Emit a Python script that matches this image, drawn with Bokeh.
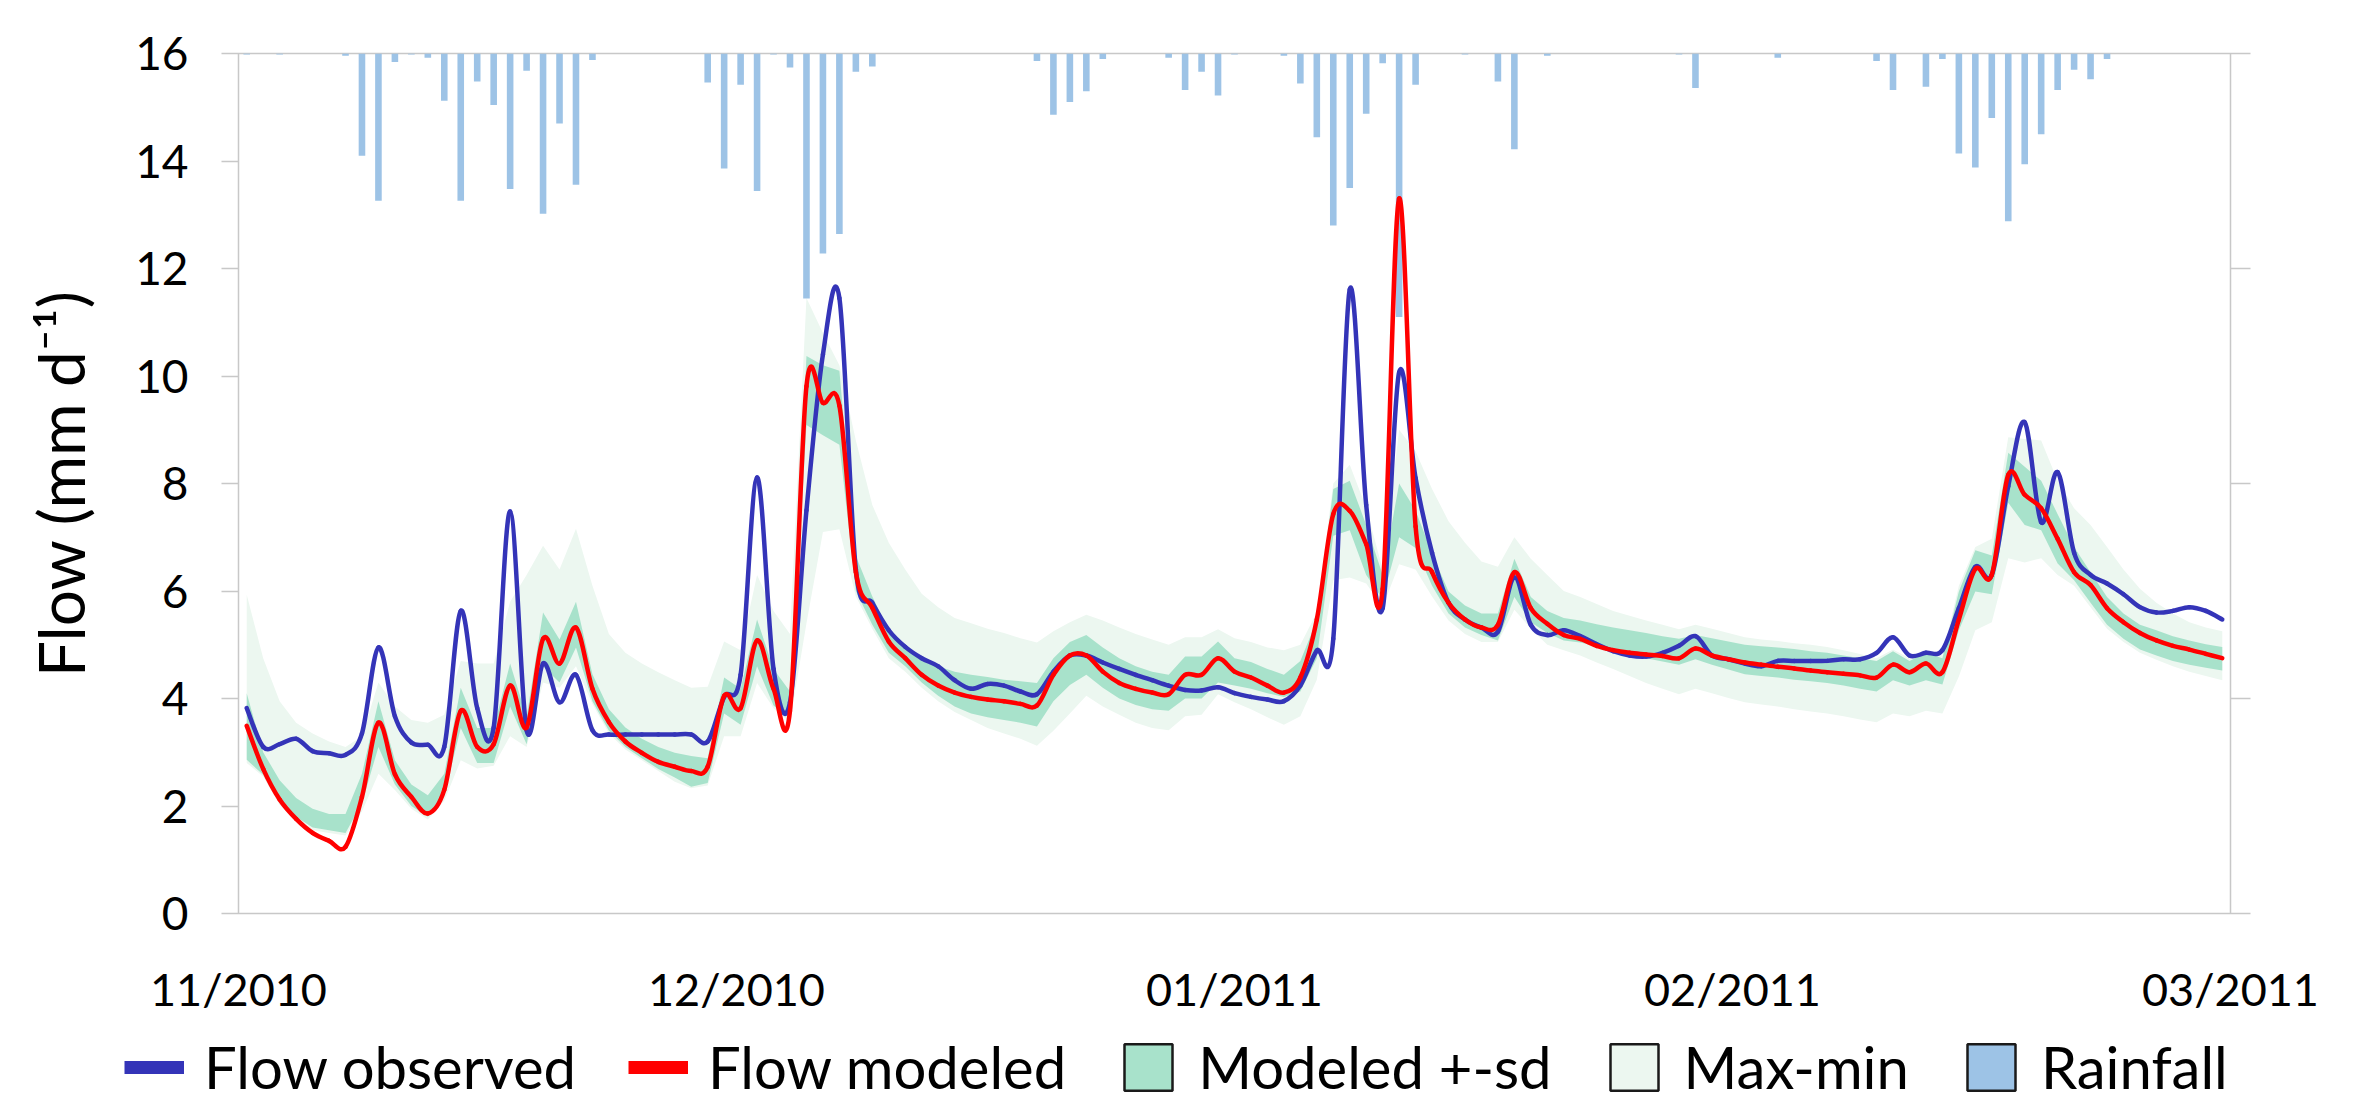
import numpy as np
from bokeh.plotting import figure
from bokeh.layouts import column, row
from bokeh.models import (Range1d, LinearAxis, FixedTicker, Legend, LegendItem, Spacer)
from bokeh.embed import file_html
from bokeh.resources import INLINE

# ---------------- data (daily, 01/11/2010 .. 01/03/2011) ----------------
day = np.arange(121)

flow_observed = [
    3.82, 3.10, 3.15, 3.25, 3.02, 2.98, 2.95, 3.35, 4.95, 3.67,
    3.18, 3.14, 3.10, 5.63, 3.82, 3.46, 7.48, 3.41, 4.65, 3.93,
    4.44, 3.41, 3.33, 3.33, 3.33, 3.33, 3.33, 3.33, 3.20, 4.03,
    4.44, 8.11, 4.55, 3.93, 7.50, 10.40, 11.45, 6.40, 5.78, 5.27,
    4.96, 4.75, 4.60, 4.34, 4.18, 4.27, 4.24, 4.13, 4.08, 4.50,
    4.80, 4.80, 4.67, 4.55, 4.44, 4.34, 4.24, 4.16, 4.15, 4.21,
    4.10, 4.03, 3.98, 3.95, 4.24, 4.89, 5.11, 11.61, 7.60, 5.68,
    10.07, 8.10, 6.71, 5.78, 5.47, 5.32, 5.24, 6.25, 5.37, 5.18,
    5.27, 5.16, 5.01, 4.88, 4.80, 4.78, 4.85, 4.98, 5.16, 4.80,
    4.73, 4.65, 4.60, 4.70, 4.70, 4.70, 4.70, 4.73, 4.73, 4.85,
    5.14, 4.80, 4.85, 4.90, 5.68, 6.45, 6.30, 7.95, 9.14, 7.28,
    8.21, 6.71, 6.30, 6.14, 5.94, 5.70, 5.60, 5.63, 5.70, 5.63,
    5.47]

flow_modeled = [
    3.49, 2.69, 2.12, 1.76, 1.50, 1.35, 1.24, 2.17, 3.55, 2.59,
    2.17, 1.86, 2.30, 3.77, 3.10, 3.15, 4.24, 3.46, 5.11, 4.65,
    5.32, 4.18, 3.56, 3.20, 2.99, 2.82, 2.73, 2.65, 2.73, 4.05,
    3.82, 5.08, 4.18, 3.77, 9.81, 9.50, 9.45, 6.35, 5.69, 5.06,
    4.75, 4.44, 4.24, 4.11, 4.03, 3.98, 3.95, 3.90, 3.87, 4.44,
    4.80, 4.80, 4.50, 4.29, 4.18, 4.11, 4.08, 4.44, 4.44, 4.75,
    4.50, 4.39, 4.24, 4.11, 4.39, 5.47, 7.43, 7.49, 6.87, 6.04,
    13.30, 7.20, 6.35, 5.78, 5.47, 5.32, 5.37, 6.35, 5.68, 5.39,
    5.18, 5.11, 4.98, 4.90, 4.85, 4.82, 4.79, 4.75, 4.93, 4.80,
    4.73, 4.67, 4.63, 4.59, 4.56, 4.52, 4.49, 4.46, 4.43, 4.39,
    4.63, 4.49, 4.65, 4.49, 5.47, 6.41, 6.30, 8.16, 7.79, 7.54,
    6.97, 6.35, 6.11, 5.68, 5.42, 5.22, 5.08, 4.98, 4.91, 4.83,
    4.75]

sd_low = [
    2.86, 2.58, 2.07, 1.80, 1.60, 1.55, 1.50, 2.05, 3.10, 2.40,
    2.00, 1.80, 2.20, 3.45, 2.80, 2.80, 3.85, 3.15, 4.60, 4.30,
    4.95, 3.95, 3.40, 3.10, 2.89, 2.69, 2.53, 2.36, 2.43, 3.72,
    3.51, 4.60, 3.87, 3.62, 9.09, 8.90, 8.72, 6.00, 5.37, 4.85,
    4.60, 4.30, 4.05, 3.85, 3.72, 3.65, 3.60, 3.55, 3.48, 3.95,
    4.25, 4.44, 4.20, 4.00, 3.88, 3.80, 3.77, 4.00, 4.00, 4.30,
    4.24, 4.18, 4.10, 4.03, 4.13, 4.75, 7.03, 7.13, 6.30, 5.85,
    7.00, 6.80, 6.10, 5.58, 5.32, 5.18, 5.08, 5.89, 5.42, 5.22,
    5.08, 5.04, 4.97, 4.90, 4.82, 4.75, 4.69, 4.63, 4.73, 4.63,
    4.54, 4.45, 4.42, 4.39, 4.35, 4.32, 4.29, 4.24, 4.18, 4.13,
    4.34, 4.24, 4.34, 4.26, 5.27, 5.99, 5.94, 7.64, 7.23, 7.13,
    6.51, 6.20, 5.78, 5.37, 5.11, 4.91, 4.80, 4.70, 4.63, 4.57,
    4.52]

sd_high = [
    4.10, 3.00, 2.48, 2.15, 1.95, 1.85, 1.85, 2.60, 3.95, 2.85,
    2.40, 2.20, 2.60, 4.20, 3.45, 3.45, 4.65, 3.65, 5.60, 5.10,
    5.80, 4.45, 3.80, 3.46, 3.25, 3.10, 2.99, 2.93, 2.89, 4.39,
    4.18, 5.47, 4.55, 4.13, 10.37, 10.20, 10.10, 6.65, 5.90, 5.27,
    5.00, 4.75, 4.60, 4.50, 4.44, 4.40, 4.35, 4.32, 4.29, 4.75,
    5.05, 5.18, 4.95, 4.75, 4.60, 4.50, 4.44, 4.78, 4.78, 5.06,
    4.75, 4.68, 4.55, 4.44, 4.70, 5.45, 7.90, 8.05, 7.23, 6.30,
    8.00, 7.50, 6.70, 5.99, 5.73, 5.58, 5.58, 6.60, 5.89, 5.63,
    5.50, 5.45, 5.38, 5.32, 5.27, 5.22, 5.16, 5.11, 5.18, 5.12,
    5.06, 5.00, 4.97, 4.95, 4.92, 4.88, 4.85, 4.80, 4.75, 4.70,
    4.88, 4.70, 4.85, 4.75, 5.99, 6.76, 6.66, 8.57, 8.31, 8.05,
    7.43, 6.82, 6.35, 5.89, 5.58, 5.37, 5.27, 5.16, 5.08, 5.01,
    4.96]

maxmin_low = [
    2.80, 2.55, 2.02, 1.75, 1.55, 1.50, 1.45, 1.90, 2.60, 2.30,
    1.95, 1.75, 2.10, 2.85, 2.70, 2.75, 3.30, 3.10, 4.30, 4.20,
    4.60, 3.90, 3.35, 3.05, 2.85, 2.65, 2.45, 2.33, 2.38, 3.30,
    3.30, 4.29, 3.82, 3.56, 5.40, 7.10, 7.15, 5.90, 5.30, 4.75,
    4.50, 4.20, 3.95, 3.75, 3.60, 3.45, 3.35, 3.25, 3.12, 3.40,
    3.72, 4.05, 3.85, 3.70, 3.55, 3.45, 3.41, 3.67, 3.70, 4.08,
    3.93, 3.80, 3.65, 3.51, 3.67, 4.35, 6.20, 6.25, 6.14, 5.70,
    6.50, 6.40, 5.90, 5.45, 5.20, 5.05, 5.05, 5.65, 5.30, 5.00,
    4.90, 4.80, 4.67, 4.55, 4.42, 4.29, 4.18, 4.08, 4.18, 4.10,
    4.01, 3.93, 3.89, 3.85, 3.80, 3.76, 3.72, 3.67, 3.61, 3.56,
    3.72, 3.67, 3.77, 3.72, 4.41, 5.27, 5.42, 6.61, 6.53, 6.61,
    6.30, 6.10, 5.70, 5.30, 5.05, 4.85, 4.72, 4.60, 4.50, 4.42,
    4.34]

maxmin_high = [
    5.93, 4.75, 3.95, 3.55, 3.35, 3.20, 3.10, 3.30, 4.30, 3.85,
    3.60, 3.55, 3.70, 4.70, 4.65, 4.65, 5.80, 6.30, 6.84, 6.40,
    7.16, 6.10, 5.20, 4.85, 4.65, 4.49, 4.34, 4.20, 4.22, 5.06,
    4.90, 6.30, 5.63, 5.20, 11.45, 10.80, 10.20, 8.80, 7.60, 6.90,
    6.40, 5.95, 5.70, 5.50, 5.40, 5.30, 5.22, 5.12, 5.04, 5.25,
    5.42, 5.56, 5.45, 5.32, 5.20, 5.10, 5.00, 5.14, 5.14, 5.29,
    5.12, 5.05, 4.95, 4.90, 5.00, 5.60, 8.00, 8.35, 7.55, 6.40,
    9.00, 8.60, 7.90, 7.30, 6.90, 6.55, 6.45, 7.00, 6.60, 6.30,
    6.00, 5.89, 5.76, 5.63, 5.54, 5.45, 5.37, 5.29, 5.37, 5.30,
    5.22, 5.14, 5.10, 5.07, 5.03, 5.00, 4.96, 4.90, 4.83, 4.75,
    4.91, 4.75, 4.90, 4.80, 6.10, 6.82, 6.97, 8.86, 8.83, 8.80,
    8.05, 7.54, 7.23, 6.82, 6.40, 6.04, 5.78, 5.58, 5.42, 5.32,
    5.25]

rainfall = [
    0.1, 0.0, 0.1, 0.0, 0.0, 0.0, 0.2, 9.5, 13.7, 0.8,
    0.1, 0.4, 4.4, 13.7, 2.6, 4.8, 12.6, 1.6, 14.9, 6.5,
    12.2, 0.6, 0.0, 0.0, 0.0, 0.0, 0.0, 0.0, 2.7, 10.7,
    2.9, 12.8, 0.1, 1.3, 22.8, 18.6, 16.8, 1.7, 1.2, 0.0,
    0.0, 0.0, 0.0, 0.0, 0.0, 0.0, 0.0, 0.0, 0.7, 5.7,
    4.5, 3.5, 0.5, 0.0, 0.0, 0.0, 0.4, 3.4, 1.7, 3.9,
    0.1, 0.0, 0.0, 0.2, 2.8, 7.8, 16.0, 12.5, 5.6, 0.9,
    24.5, 2.9, 0.0, 0.0, 0.1, 0.0, 2.6, 8.9, 0.0, 0.2,
    0.0, 0.0, 0.0, 0.0, 0.0, 0.0, 0.0, 0.1, 3.2, 0.0,
    0.0, 0.0, 0.0, 0.4, 0.0, 0.0, 0.0, 0.0, 0.0, 0.7,
    3.4, 0.0, 3.1, 0.5, 9.3, 10.6, 6.0, 15.6, 10.3, 7.5,
    3.4, 1.5, 2.4, 0.5, 0.0, 0.0, 0.0, 0.0, 0.0, 0.0,
    0.0]

month_labels = ["11/2010", "12/2010", "01/2011", "02/2011", "03/2011"]
flow_ticks = [0, 2, 4, 6, 8, 10, 12, 14, 16]
rain_ticks = [0, 20, 40, 60, 80]
legend_labels = ["Flow observed", "Flow modeled", "Modeled +-sd", "Max-min", "Rainfall"]

# ---------------- styling ----------------
FONT = "Lato"
C_OBS = "#3434B8"
C_MOD = "#FF0000"
C_SD = "#A8E2CB"
C_MM = "#ECF7F0"
C_RAIN = "#9DC3E6"
C_AXIS = "#C8C8C8"

W = 2362
H_MAIN = 1020
H_LEG = 72
LEG_LEFT = 124

x = day + 0.5
n_days = len(day)


def smooth_segments(xs, ys):
    """Cubic Bezier segments through the daily points (Excel-style smoothed line)."""
    xs = np.asarray(xs, float)
    ys = np.asarray(ys, float)
    n = len(xs)
    xp = np.concatenate([[xs[0]], xs, [xs[-1]]])
    yp = np.concatenate([[ys[0]], ys, [ys[-1]]])
    return dict(
        x0=xs[:-1], y0=ys[:-1], x1=xs[1:], y1=ys[1:],
        cx0=xs[:-1] + (xp[2:n + 1] - xp[0:n - 1]) / 6.0,
        cy0=ys[:-1] + (yp[2:n + 1] - yp[0:n - 1]) / 6.0,
        cx1=xs[1:] - (xp[3:n + 2] - xp[1:n]) / 6.0,
        cy1=ys[1:] - (yp[3:n + 2] - yp[1:n]) / 6.0,
    )


p = figure(width=W, height=H_MAIN, output_backend="svg", toolbar_location=None,
           x_range=Range1d(0, n_days), y_range=Range1d(0, 16),
           min_border_left=238, min_border_right=132,
           min_border_top=53, min_border_bottom=H_MAIN - 913)
p.extra_y_ranges = {"rain": Range1d(start=80, end=0)}

p.background_fill_color = "white"
p.border_fill_color = "white"
p.outline_line_color = C_AXIS
p.outline_line_width = 1.5
p.xgrid.visible = False
p.ygrid.visible = False

# bands
p.varea(x=x, y1=maxmin_low, y2=maxmin_high, fill_color=C_MM)
p.varea(x=x, y1=sd_low, y2=sd_high, fill_color=C_SD)
# rainfall (inverted secondary axis)
p.vbar(x=x, width=0.4, top=0, bottom=rainfall, y_range_name="rain",
       fill_color=C_RAIN, line_color=None)
# flows (smoothed)
p.bezier(**smooth_segments(x, flow_observed), line_color=C_OBS, line_width=4.5,
         line_cap="round")
p.bezier(**smooth_segments(x, flow_modeled), line_color=C_MOD, line_width=4.5,
         line_cap="round")

# x axis
xa = p.xaxis[0]
tick_pos = [float(v) for v in np.linspace(0, n_days, len(month_labels))]
xa.ticker = FixedTicker(ticks=tick_pos)
xa.major_label_overrides = {t: lab for t, lab in zip(tick_pos, month_labels)}
xa.major_tick_line_color = None
xa.minor_tick_line_color = None
xa.axis_line_color = None
xa.major_label_standoff = 42
xa.major_label_text_font = FONT
xa.major_label_text_font_size = "45px"
xa.major_label_text_color = "black"

# left axis
ya = p.yaxis[0]
ya.ticker = FixedTicker(ticks=flow_ticks)
ya.major_tick_in = 0
ya.major_tick_out = 17
ya.major_tick_line_color = C_AXIS
ya.major_tick_line_width = 1.5
ya.minor_tick_line_color = None
ya.axis_line_color = None
ya.major_label_standoff = 33
ya.major_label_text_font = FONT
ya.major_label_text_font_size = "46px"
ya.major_label_text_color = "black"
ya.axis_label = "Flow (mm d\u207b\u00b9)"
ya.axis_label_text_font = FONT
ya.axis_label_text_font_size = "64px"
ya.axis_label_text_font_style = "normal"
ya.axis_label_text_color = "black"
ya.axis_label_standoff = 33

# right (rainfall) axis, unlabeled
ra = LinearAxis(y_range_name="rain", ticker=FixedTicker(ticks=rain_ticks))
ra.major_tick_in = 0
ra.major_tick_out = 20
ra.major_tick_line_color = C_AXIS
ra.major_tick_line_width = 1.5
ra.minor_tick_line_color = None
ra.axis_line_color = None
ra.major_label_text_font_size = "0px"
ra.major_label_text_alpha = 0
p.add_layout(ra, "right")

# ---------------- legend strip ----------------
q = figure(width=W - LEG_LEFT, height=H_LEG, output_backend="svg", toolbar_location=None,
           x_range=Range1d(0, 1), y_range=Range1d(0, 1),
           x_axis_type=None, y_axis_type=None,
           min_border_left=0, min_border_right=0, min_border_top=0, min_border_bottom=0)
q.outline_line_color = None
q.background_fill_color = "white"
q.border_fill_color = "white"
q.xgrid.visible = False
q.ygrid.visible = False

# swatch renderers: their single sample lies outside the strip's visible range
off = dict(x=[5.0, 6.0], y=[5.0, 5.0])
l_obs = q.line(line_color=C_OBS, line_width=13, **off)
l_mod = q.line(line_color=C_MOD, line_width=13, **off)
l_sd = q.quad(left=[5.0], right=[6.0], top=[6.0], bottom=[5.0], fill_color=C_SD,
              line_color="#1a1a1a", line_width=2.5)
l_mm = q.quad(left=[5.0], right=[6.0], top=[6.0], bottom=[5.0], fill_color=C_MM,
              line_color="#1a1a1a", line_width=2.5)
l_rain = q.quad(left=[5.0], right=[6.0], top=[6.0], bottom=[5.0], fill_color=C_RAIN,
                line_color="#1a1a1a", line_width=2.5)

legend = Legend(items=[
    LegendItem(label=lab, renderers=[r]) for lab, r in
    zip(legend_labels, [l_obs, l_mod, l_sd, l_mm, l_rain])
], orientation="horizontal", location=(0, -9), padding=0, margin=0,
    spacing=52, label_standoff=20, glyph_width=60, glyph_height=58,
    label_text_font=FONT, label_text_font_size="58px", label_text_color="black",
    label_text_line_height=0.8,
    border_line_alpha=0, background_fill_alpha=0, label_height=58)
q.add_layout(legend)

layout = column(p, row(Spacer(width=LEG_LEFT, height=H_LEG), q, spacing=0), spacing=0)
open("out.html", "w").write(file_html(layout, INLINE))
